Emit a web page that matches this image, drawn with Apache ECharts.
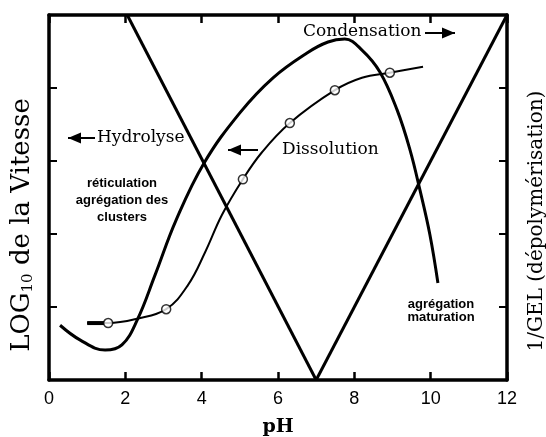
<!DOCTYPE html>
<html>
<head>
<meta charset="utf-8">
<script src="https://cdn.jsdelivr.net/npm/echarts@6/dist/echarts.min.js"></script>
<style>
  html, body { margin: 0; padding: 0; background: #fff; }
  #chart { width: 546px; height: 437px; }
</style>
</head>
<body>
<div id="chart"></div>
<script>
// axis ticks
const phTicks = [0, 2, 4, 6, 8, 10, 12]
const logTicks = [0, 1, 2, 3, 4, 5]

// hydrolyse / condensation (V shape)
const hydrolysePH = [2.05, 7]
const hydrolyseLog = [5, 0]
const condensationPH = [7, 12]
const condensationLog = [0, 5]

// gel curve (bell)
const gelPH = [0.29, 0.81, 1.47, 1.91, 2.31, 2.78, 3.33, 4.06, 5.00, 5.87, 6.76, 7.31, 7.75, 8.20, 8.67, 9.12, 9.46, 9.72, 9.98, 10.19]
const gelLog = [0.75, 0.55, 0.41, 0.48, 0.82, 1.44, 2.19, 2.97, 3.66, 4.14, 4.48, 4.63, 4.67, 4.52, 4.22, 3.70, 3.15, 2.60, 1.99, 1.33]

// dissolution curve
const dissolutionPH = [1.0, 1.55, 2.31, 3.07, 3.64, 4.09, 4.53, 5.08, 5.58, 6.31, 7.49, 8.20, 8.93, 9.80]
const dissolutionLog = [0.78, 0.78, 0.84, 0.97, 1.30, 1.75, 2.26, 2.75, 3.12, 3.52, 3.97, 4.14, 4.21, 4.29]
const dissolutionStartPH = [1.0, 1.45]
const dissolutionStartLog = [0.78, 0.78]
// measured points (open circles)
const markPH = [1.55, 3.07, 5.08, 6.31, 7.49, 8.93]
const markLog = [0.78, 0.97, 2.75, 3.52, 3.97, 4.21]

const zip = (xs, ys) => xs.map((x, i) => [x, ys[i]])

const serif = 'DejaVu Serif, Liberation Serif, serif'
const black = '#000'

const axisX = (pos, showLabel) => ({
  type: 'value',
  position: pos,
  min: phTicks[0],
  max: phTicks[phTicks.length - 1],
  interval: phTicks[1] - phTicks[0],
  axisLine: { show: true, onZero: false, lineStyle: { color: black, width: 3.5 } },
  axisTick: { show: true, inside: true, length: 8, lineStyle: { color: black, width: 2.5 } },
  axisLabel: { show: showLabel, color: black, fontSize: 18, fontFamily: 'Liberation Sans, Arial, sans-serif', margin: 10 },
  splitLine: { show: false }
})

const axisY = (pos) => ({
  type: 'value',
  position: pos,
  min: logTicks[0],
  max: logTicks[logTicks.length - 1],
  interval: logTicks[1] - logTicks[0],
  axisLine: { show: true, onZero: false, lineStyle: { color: black, width: 3.5 } },
  axisTick: { show: true, inside: true, length: 8, lineStyle: { color: black, width: 2 } },
  axisLabel: { show: false },
  splitLine: { show: false }
})

const arrow = (x1, x2, y, left) => {
  const tip = left ? x1 : x2
  const base = left ? x1 + 13 : x2 - 13
  return [
    { type: 'line', shape: { x1: x1, y1: y, x2: x2, y2: y }, style: { stroke: black, lineWidth: 2 } },
    { type: 'polygon', shape: { points: [[tip, y], [base, y - 5.5], [base, y + 5.5]] }, style: { fill: black } }
  ]
}

const chart = echarts.init(document.getElementById('chart'))
chart.setOption({
  animation: false,
  backgroundColor: '#fff',
  grid: { left: 49, right: 39, top: 15, bottom: 57, containLabel: false, outerBoundsMode: 'none' },
  xAxis: [
    Object.assign(axisX('bottom', true), {
      name: 'pH',
      nameLocation: 'middle',
      nameGap: 38,
      nameTextStyle: { color: black, fontSize: 19, fontWeight: 'bold', fontFamily: serif }
    }),
    axisX('top', false)
  ],
  yAxis: [axisY('left'), axisY('right')],
  series: [
    {
      name: 'Hydrolyse', type: 'line', data: zip(hydrolysePH, hydrolyseLog),
      symbol: 'none', lineStyle: { color: black, width: 3 }
    },
    {
      name: 'Condensation', type: 'line', data: zip(condensationPH, condensationLog),
      symbol: 'none', lineStyle: { color: black, width: 3 }
    },
    {
      name: 'Gel', type: 'line', data: zip(gelPH, gelLog), smooth: 0.4,
      symbol: 'none', lineStyle: { color: black, width: 3 }
    },
    {
      name: 'Dissolution', type: 'line', data: zip(dissolutionPH, dissolutionLog), smooth: 0.4,
      symbol: 'none', lineStyle: { color: black, width: 2 }
    },
    {
      name: 'DissolutionStart', type: 'line', data: zip(dissolutionStartPH, dissolutionStartLog),
      symbol: 'none', lineStyle: { color: black, width: 4 }
    },
    {
      name: 'Points', type: 'scatter', data: zip(markPH, markLog), z: 5,
      symbol: 'circle', symbolSize: 9,
      itemStyle: { color: '#fff', borderColor: black, borderWidth: 1.5 }
    }
  ],
  graphic: [
    {
      type: 'text', x: 22, y: 225, rotation: Math.PI / 2,
      style: {
        text: '{a|LOG}{s|10}{a| de la Vitesse}',
        align: 'center', verticalAlign: 'middle',
        rich: {
          a: { fontSize: 26, fontFamily: serif, fill: black },
          s: { fontSize: 15, fontFamily: serif, fill: black, padding: [13, 0, 0, 0] }
        }
      }
    },
    {
      type: 'text', x: 537, y: 221, rotation: Math.PI / 2,
      style: { text: '1/GEL (dépolymérisation)', align: 'center', verticalAlign: 'middle', fontSize: 20, fontFamily: serif, fill: black }
    },
    { type: 'text', x: 97, y: 138, style: { text: 'Hydrolyse', verticalAlign: 'middle', fontSize: 17, fontFamily: serif, fill: black } },
    { type: 'text', x: 282, y: 150, style: { text: 'Dissolution', verticalAlign: 'middle', fontSize: 17, fontFamily: serif, fill: black } },
    { type: 'text', x: 303, y: 32, style: { text: 'Condensation', verticalAlign: 'middle', fontSize: 17, fontFamily: serif, fill: black } },
    {
      type: 'text', x: 122, y: 200,
      style: { text: 'réticulation\nagrégation des\nclusters', align: 'center', verticalAlign: 'middle', lineHeight: 17, fontSize: 13, fontWeight: 'bold', fontFamily: 'Liberation Sans, Arial, sans-serif', fill: black }
    },
    {
      type: 'text', x: 441, y: 311,
      style: { text: 'agrégation\nmaturation', align: 'center', verticalAlign: 'middle', lineHeight: 13, fontSize: 13, fontWeight: 'bold', fontFamily: 'Liberation Sans, Arial, sans-serif', fill: black }
    },
    ...arrow(68, 95, 138, true),
    ...arrow(228, 258, 150, true),
    ...arrow(425, 455, 33, false)
  ]
})
</script>
</body>
</html>
